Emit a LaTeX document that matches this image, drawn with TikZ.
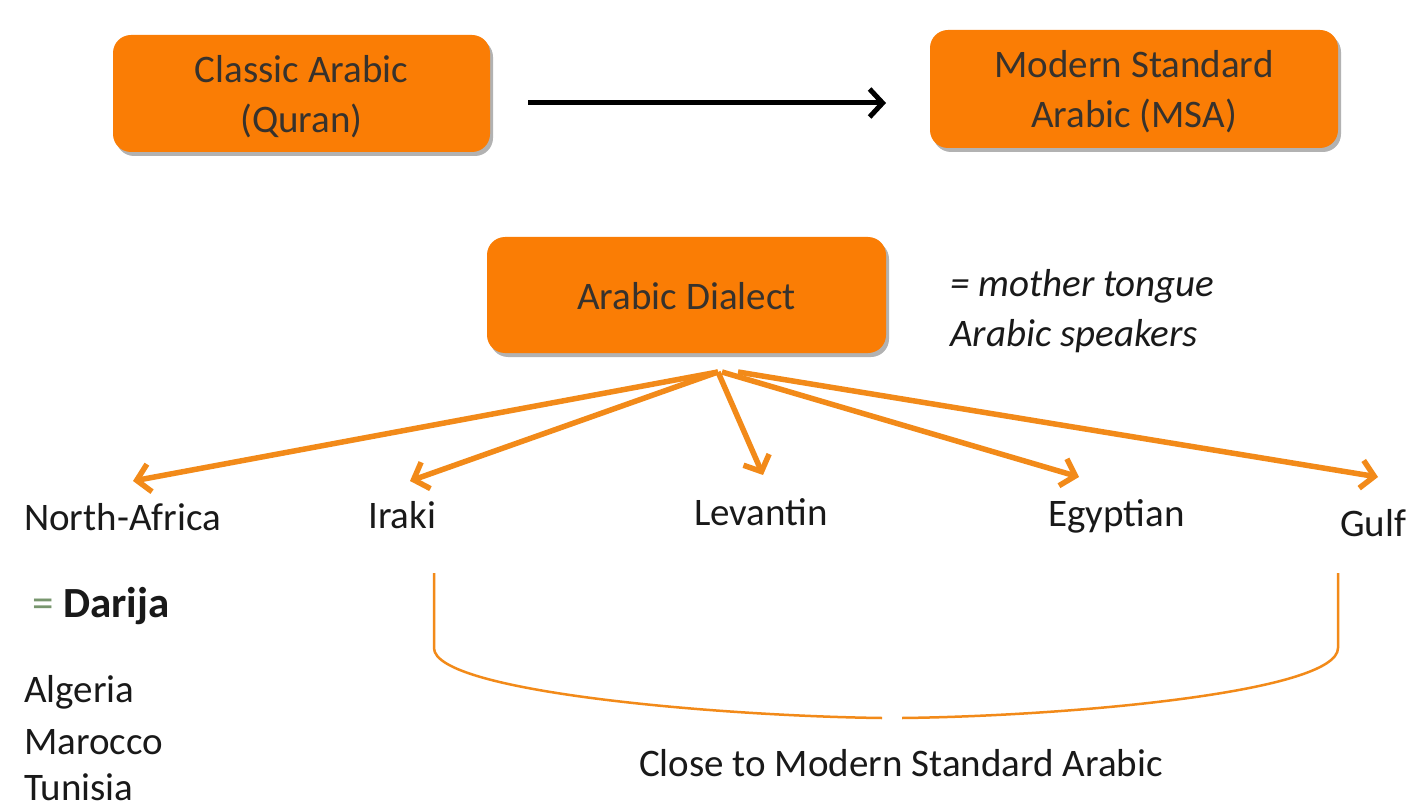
\documentclass[tikz,border=0pt]{standalone}
\usepackage{fontspec}
\setmainfont{Carlito}
\usetikzlibrary{arrows.meta,shadows}
\definecolor{boxorange}{RGB}{250,125,5}
\definecolor{lineorange}{RGB}{242,138,25}
\definecolor{boxtext}{RGB}{55,50,45}
\definecolor{eqgreen}{RGB}{120,150,110}
\begin{document}
\begin{tikzpicture}[x=1pt,y=-1pt,
  obox/.style={draw=none, fill=boxorange, rounded corners=18pt,
    inner sep=0pt,
    drop shadow={shadow xshift=3pt, shadow yshift=-4pt, fill=black, opacity=0.3}},
  btext/.style={inner sep=0pt, text=boxtext, align=center, font=\fontsize{39}{50}\selectfont},
  lbl/.style={inner sep=0pt, text=black!90, font=\fontsize{39}{48}\selectfont},
  oarrow/.style={draw=lineorange, line width=5.5pt, -{Straight Barb[length=13pt,width=28pt,line width=5.5pt]}},
  karrow/.style={draw=black, line width=5pt, -{Straight Barb[length=13pt,width=28pt,line width=5pt]}},
  brace/.style={draw=lineorange, line width=2.5pt}
]
\useasboundingbox (0,0) rectangle (1407,802);
\clip (0,0) rectangle (1407,802);
\fill[white] (0,0) rectangle (1407,802);

% boxes
\node[obox, minimum width=377pt, minimum height=117pt] (ca) at (301.5,93.5) {};
\node[obox, minimum width=408pt, minimum height=118pt] (msa) at (1134,89) {};
\node[obox, minimum width=399pt, minimum height=116pt] (dia) at (686.5,295) {};
\node[btext] (catext) at ([yshift=-3pt]ca.center) {Classic Arabic\\(Quran)};
\node[btext] (msatext) at ([yshift=-3pt]msa.center) {Modern Standard\\Arabic (MSA)};
\node[btext] (diatext) at ([yshift=-1pt]dia.center) {Arabic Dialect};

% black arrow
\coordinate (k1) at (528,103);
\coordinate (k2) at (886,103);
\draw[karrow] (k1) -- (k2);

% side note
\node[lbl, anchor=base west, align=left, font=\fontsize{39}{50}\selectfont\itshape] (note) at (950,346) {= mother tongue\\Arabic speakers};

% labels
\node[lbl, anchor=base west] (na) at (24,530) {North-Africa};
\node[lbl, anchor=base west] (ir) at (368,528) {Iraki};
\node[lbl, anchor=base west] (lev) at (694,525) {Levantin};
\node[lbl, anchor=base west] (egy) at (1048,526) {Egyptian};
\node[lbl, anchor=base west] (gulf) at (1340,536) {Gulf};

% arrow tips
\coordinate (s0) at (718,372);
\coordinate (s1) at (722,372);
\coordinate (s2) at (738,372);
\coordinate (t1) at (133,481);
\coordinate (t2) at (410,481);
\coordinate (t3) at (763,475);
\coordinate (t4) at (1079,477);
\coordinate (t5) at (1378,477);
\draw[oarrow] (s0) -- (t1);
\draw[oarrow] (s0) -- (t2);
\draw[oarrow] (s0) -- (t3);
\draw[oarrow] (s1) -- (t4);
\draw[oarrow] (s2) -- (t5);

% Darija block
\node[lbl, anchor=base west, font=\fontsize{43}{50}\selectfont] (dar) at (32,617) {\textcolor{eqgreen}{=} \textbf{Darija}};
\node[lbl, anchor=base west] (alg) at (24,702) {Algeria};
\node[lbl, anchor=base west] (mar) at (24,754) {Marocco};
\node[lbl, anchor=base west] (tun) at (24,800) {Tunisia};

% brace
\coordinate (b1) at (434,573);
\coordinate (b2) at (434,648);
\coordinate (b3) at (882,718);
\coordinate (b4) at (902,718);
\coordinate (b5) at (1338,648);
\coordinate (b6) at (1338,573);
\draw[brace] (b1) -- (b2) .. controls (434,692) and (720,716) .. (b3);
\draw[brace] (b4) .. controls (1070,716) and (1338,692) .. (b5) -- (b6);

\node[lbl, anchor=base] (close) at (901,776) {Close to Modern Standard Arabic};
\end{tikzpicture}
\end{document}
